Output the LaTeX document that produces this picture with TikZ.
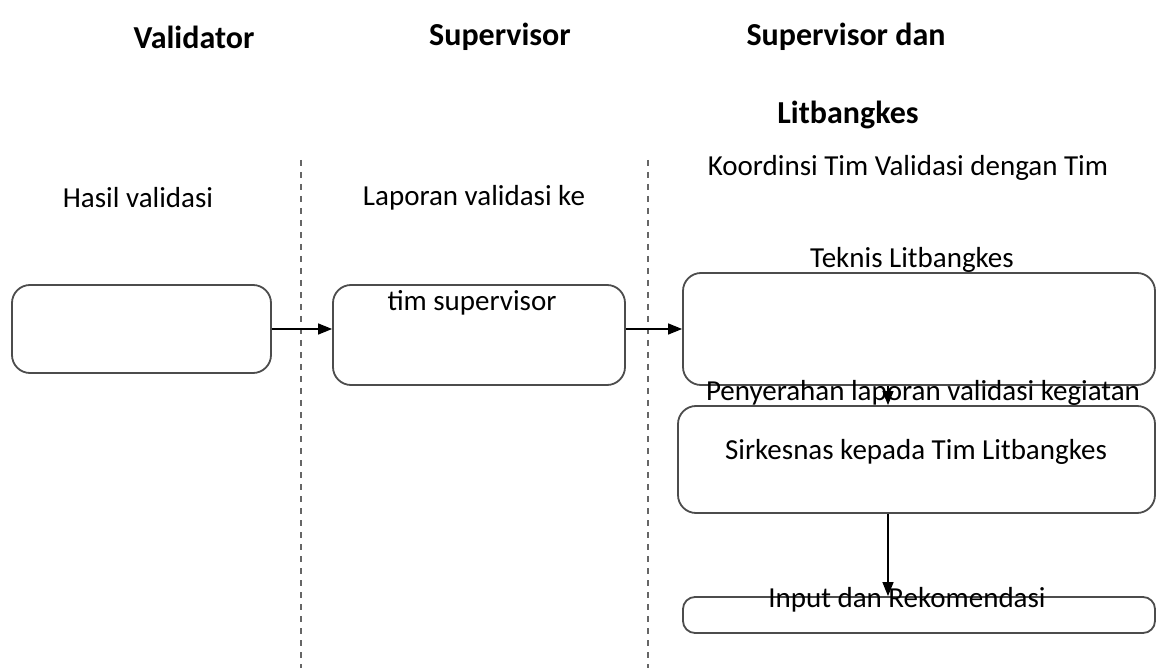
\documentclass[tikz,border=0pt]{standalone}
\usepackage{fontspec}
\setmainfont{Carlito}
\usetikzlibrary{arrows.meta}
\begin{document}
\begin{tikzpicture}[x=1pt,y=-1pt,
	kotak/.style={draw=black!70, line width=1.8pt, rounded corners=18pt},
	teks/.style={font=\fontsize{29}{34}\selectfont},
	judul/.style={font=\bfseries\fontsize{32}{38}\selectfont},
	panah/.style={-{Triangle[length=14pt,width=11pt]}, line width=1.3pt},
	batas/.style={draw=black!60, line width=2.2pt, dash pattern=on 6pt off 6pt}]
	\useasboundingbox (0,0) rectangle (1168,668);
	
	% judul kolom
	\node[judul] (jValidator) at (194, 37) {Validator};
	\node[judul] (jSupervisor) at (500, 37) {Supervisor};
	\node[judul] (jSupLit1) at (846, 37) {Supervisor dan};
	\node[judul] (jSupLit2) at (848, 115) {Litbangkes};
	
	% garis pembatas
	\draw[batas] (301, 160) -- (301, 668);
	\draw[batas] (648, 160) -- (648, 668);
	
	% kotak
	\node[kotak, minimum width=259pt, minimum height=88pt] (bHasil) at (141.5, 329) {};
	\node[kotak, minimum width=292pt, minimum height=100pt] (bLaporan) at (479, 335) {};
	\node[kotak, minimum width=472pt, minimum height=112pt] (bKoordinasi) at (919, 329) {};
	\node[kotak, minimum width=477pt, minimum height=107pt] (bPenyerahan) at (916.5, 459.5) {};
	\node[kotak, rounded corners=12pt, minimum width=472pt, minimum height=36pt] (bInput) at (919, 615) {};
	
	% teks
	\node[teks] (tHasil) at (138, 198) {Hasil validasi};
	\node[teks] (tLaporan1) at (474, 198) {Laporan validasi ke};
	\node[teks] (tLaporan2) at (472, 303) {tim supervisor};
	\node[teks] (tKoord1) at (908, 168) {Koordinsi Tim Validasi dengan Tim};
	\node[teks] (tKoord2) at (912, 260) {Teknis Litbangkes};
	\node[teks] (tPenyer1) at (923, 393) {Penyerahan laporan validasi kegiatan};
	\node[teks] (tPenyer2) at (916, 452) {Sirkesnas kepada Tim Litbangkes};
	\node[teks] (tInput) at (907, 600) {Input dan Rekomendasi};
	
	% panah
	\coordinate (xPanah) at (888, 0);
	\draw[panah] (bHasil.east) -- (bHasil.east -| bLaporan.west);
	\draw[panah] (bHasil.east -| bLaporan.east) -- (bHasil.east -| bKoordinasi.west);
	\draw[panah] (bKoordinasi.south -| xPanah) -- (bPenyerahan.north -| xPanah);
	\draw[panah] (bPenyerahan.south -| xPanah) -- (bInput.north -| xPanah);
\end{tikzpicture}
\end{document}
